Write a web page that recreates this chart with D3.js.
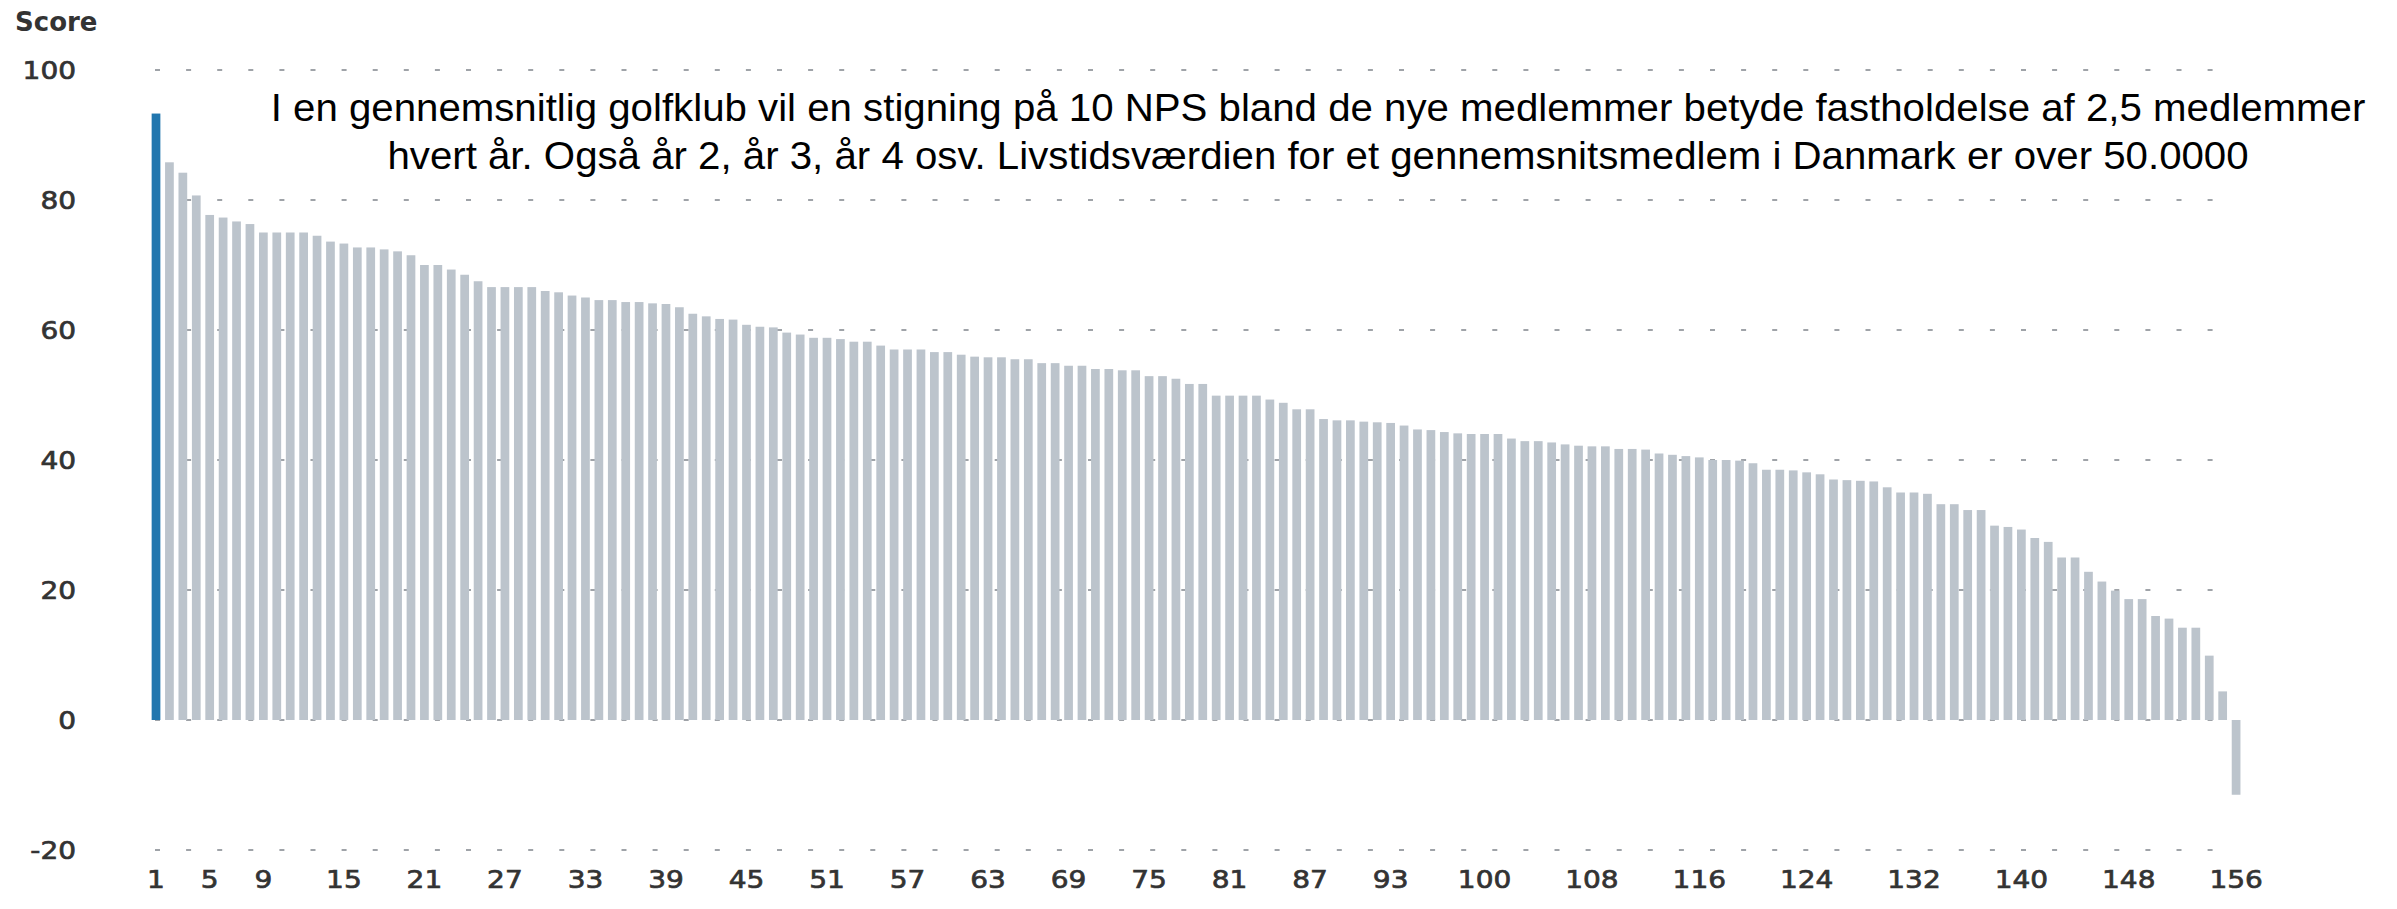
<!DOCTYPE html>
<html>
<head>
<meta charset="utf-8">
<script src="https://cdn.jsdelivr.net/npm/d3@7"></script>
<style>
  html, body { margin: 0; padding: 0; background: #ffffff; }
  svg { display: block; }
</style>
</head>
<body>
<svg id="chart" width="2397" height="909"></svg>
<script>
// ---- data ----
const categories = d3.range(1, 157);
const scores = [
  93.3, 85.8, 84.2, 80.7, 77.7, 77.3, 76.7, 76.3, 75.0, 75.0,
  75.0, 75.0, 74.5, 73.6, 73.3, 72.7, 72.7, 72.4, 72.1, 71.5,
  70.0, 70.0, 69.3, 68.5, 67.5, 66.6, 66.6, 66.6, 66.6, 66.0,
  65.8, 65.3, 65.0, 64.6, 64.6, 64.3, 64.3, 64.1, 64.0, 63.5,
  62.5, 62.1, 61.7, 61.6, 60.8, 60.5, 60.4, 59.6, 59.3, 58.8,
  58.8, 58.6, 58.2, 58.2, 57.6, 57.0, 57.0, 57.0, 56.6, 56.6,
  56.2, 55.9, 55.8, 55.8, 55.5, 55.5, 54.9, 54.9, 54.5, 54.5,
  54.0, 54.0, 53.8, 53.8, 52.9, 52.9, 52.5, 51.7, 51.7, 49.9,
  49.9, 49.9, 49.9, 49.3, 48.8, 47.8, 47.8, 46.3, 46.1, 46.1,
  45.9, 45.8, 45.7, 45.3, 44.7, 44.6, 44.3, 44.1, 44.0, 44.0,
  44.0, 43.3, 42.9, 42.9, 42.7, 42.4, 42.2, 42.1, 42.1, 41.7,
  41.7, 41.6, 41.0, 40.8, 40.6, 40.4, 40.0, 40.0, 39.9, 39.5,
  38.5, 38.5, 38.4, 38.1, 37.8, 37.0, 36.9, 36.8, 36.7, 35.8,
  35.0, 35.0, 34.8, 33.2, 33.2, 32.3, 32.3, 29.9, 29.7, 29.3,
  28.0, 27.4, 25.0, 25.0, 22.8, 21.3, 19.9, 18.6, 18.6, 16.0,
  15.6, 14.2, 14.2, 9.9, 4.4, -11.5
];
const highlighted = [1];
const xTickLabels = [1, 5, 9, 15, 21, 27, 33, 39, 45, 51, 57, 63, 69, 75, 81, 87, 93, 100, 108, 116, 124, 132, 140, 148, 156];
const yTickLabels = [-20, 0, 20, 40, 60, 80, 100];
const yAxisTitle = "Score";
const annotationLines = [
  "I en gennemsnitlig golfklub vil en stigning på 10 NPS bland de nye medlemmer betyde fastholdelse af 2,5 medlemmer",
  "hvert år. Også år 2, år 3, år 4 osv. Livstidsværdien for et gennemsnitsmedlem i Danmark er over 50.0000"
];

// ---- layout ----
const svg = d3.select("#chart");
const barLeft = 149.3, barRight = 2242.8;
const gridLeft = 155, gridRight = 2218;
const yTop = 70, yBottom = 850;
const labelFont = "'DejaVu Sans', sans-serif";
const textColor = "#333333";
const stretch = 1.12;
const labelSize = 25;

const x = d3.scaleBand()
  .domain(categories)
  .range([barLeft, barRight])
  .paddingInner(0.35)
  .paddingOuter(0.175);

const y = d3.scaleLinear()
  .domain([-20, 100])
  .range([yBottom, yTop]);

// gridlines (behind bars)
svg.append("g")
  .selectAll("line")
  .data(yTickLabels)
  .join("line")
  .attr("x1", gridLeft)
  .attr("x2", gridRight)
  .attr("y1", d => y(d))
  .attr("y2", d => y(d))
  .attr("stroke", "#9fa3a8")
  .attr("stroke-width", 2)
  .attr("stroke-dasharray", "5 26.1");

// bars
svg.append("g")
  .selectAll("rect")
  .data(scores)
  .join("rect")
  .attr("x", (d, i) => x(categories[i]))
  .attr("width", x.bandwidth())
  .attr("y", d => y(Math.max(0, d)))
  .attr("height", d => Math.abs(y(d) - y(0)))
  .attr("fill", (d, i) => highlighted.includes(categories[i]) ? "#2176ae" : "#bcc4cc");

function styleLabels(sel) {
  sel.attr("font-family", labelFont)
    .attr("font-size", labelSize)
    .attr("fill", textColor)
    .attr("stroke", textColor)
    .attr("stroke-width", 0.7)
    .attr("transform", `scale(${stretch},1)`);
}

// y axis
const yAxis = svg.append("g")
  .attr("transform", "translate(76,0)")
  .call(d3.axisLeft(y).tickValues(yTickLabels).tickSize(0).tickPadding(0)
    .tickFormat(d => String(d)));
yAxis.select(".domain").remove();
yAxis.selectAll("text").call(styleLabels);

// x axis
const xAxis = svg.append("g")
  .attr("transform", `translate(0,${yBottom})`)
  .call(d3.axisBottom(x).tickValues(xTickLabels).tickSize(0).tickPadding(20));
xAxis.select(".domain").remove();
xAxis.selectAll("text").call(styleLabels);

// axis title
svg.append("text")
  .attr("transform", "translate(15,31)")
  .attr("font-family", labelFont)
  .attr("font-weight", "bold")
  .attr("font-size", 26)
  .attr("fill", textColor)
  .text(yAxisTitle);

// annotation
svg.append("g")
  .selectAll("text")
  .data(annotationLines)
  .join("text")
  .attr("transform", (d, i) => `translate(1318,${121 + i * 48}) scale(1.045,1)`)
  .attr("text-anchor", "middle")
  .attr("font-family", "'Liberation Sans', Arial, sans-serif")
  .attr("font-size", 38.5)
  .attr("fill", "#000000")
  .text(d => d);
</script>
</body>
</html>
